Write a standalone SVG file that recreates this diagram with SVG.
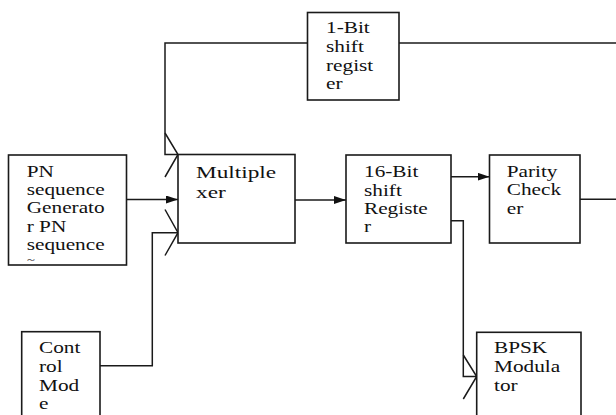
<svg xmlns="http://www.w3.org/2000/svg" width="616" height="415" viewBox="0 0 616 415">
<style>
.box{fill:#fff;stroke:#1a1a1a;stroke-width:1.6}
.ln{fill:none;stroke:#1a1a1a;stroke-width:1.5}
.t{font-family:"Liberation Serif","Times New Roman",serif;font-size:16px;fill:#111}
.tb{font-size:17.5px}
</style>
<defs>
<marker id="ah" markerUnits="userSpaceOnUse" markerWidth="12" markerHeight="8" refX="12" refY="4" orient="auto"><path d="M0,0 L12,4 L0,8 z" fill="#111"/></marker>
</defs>
<rect width="616" height="415" fill="#fff"/>
<g id="connectors">
<path class="ln" d="M307.5,43 H165 V154.5 H178"/>
<path class="ln" d="M165,133 L178,154.5 L165,177"/>
<path class="ln" d="M399,43 H616"/>
<path class="ln" d="M126.5,199.5 H178" marker-end="url(#ah)"/>
<path class="ln" d="M100,365.7 H152.3 V232.7 H178"/>
<path class="ln" d="M165,209.5 L178,232.7 L165,255.5"/>
<path class="ln" d="M295,200 H346" marker-end="url(#ah)"/>
<path class="ln" d="M451,176.7 H489.5" marker-end="url(#ah)"/>
<path class="ln" d="M580,199.3 H616"/>
<path class="ln" d="M451,220.7 H463.3 V376.5 H476.7"/>
<path class="ln" d="M463.3,355 L476.7,376.5 L463.3,399"/>
</g>
<g id="reg1">
<rect class="box" x="307.5" y="12.5" width="91.5" height="87.5"/>
<text class="t" transform="translate(326,0) scale(1.33,1)"><tspan x="0" y="33">1-Bit</tspan><tspan x="0" y="52">shift</tspan><tspan x="0" y="71">regist</tspan><tspan x="0" y="89">er</tspan></text>
</g>
<g id="pn">
<rect class="box" x="8.5" y="155" width="118" height="110"/>
<text class="t" transform="translate(26.7,0) scale(1.33,1)"><tspan x="0" y="177">PN</tspan><tspan x="0" y="195">sequence</tspan><tspan x="0" y="213.5">Generato</tspan><tspan x="0" y="232">r PN</tspan><tspan x="0" y="250">sequence</tspan></text>
<text class="t" style="font-size:11px" transform="translate(27,0) scale(1.33,1)" x="0" y="263">~</text>
</g>
<g id="mux">
<rect class="box" x="178" y="154.5" width="117" height="88.5"/>
<text class="t tb" transform="translate(196,0) scale(1.33,1)"><tspan x="0" y="178">Multiple</tspan><tspan x="0" y="198">xer</tspan></text>
</g>
<g id="reg16">
<rect class="box" x="346" y="155" width="105" height="88"/>
<text class="t" transform="translate(364,0) scale(1.33,1)"><tspan x="0" y="176.7">16-Bit</tspan><tspan x="0" y="195.7">shift</tspan><tspan x="0" y="214">Registe</tspan><tspan x="0" y="232">r</tspan></text>
</g>
<g id="parity">
<rect class="box" x="489.5" y="155" width="90.5" height="88"/>
<text class="t" transform="translate(506.7,0) scale(1.33,1)"><tspan x="0" y="176.7">Parity</tspan><tspan x="0" y="195">Check</tspan><tspan x="0" y="214">er</tspan></text>
</g>
<g id="control">
<rect class="box" x="21.7" y="331.7" width="78.3" height="100"/>
<text class="t" transform="translate(39,0) scale(1.33,1)"><tspan x="0" y="353">Cont</tspan><tspan x="0" y="372">rol</tspan><tspan x="0" y="390.7">Mod</tspan><tspan x="0" y="409">e</tspan></text>
</g>
<g id="bpsk">
<rect class="box" x="476.7" y="332.3" width="104.3" height="100"/>
<text class="t" transform="translate(494,0) scale(1.33,1)"><tspan x="0" y="353.3">BPSK</tspan><tspan x="0" y="372.3">Modula</tspan><tspan x="0" y="390.7">tor</tspan></text>
</g>
</svg>
